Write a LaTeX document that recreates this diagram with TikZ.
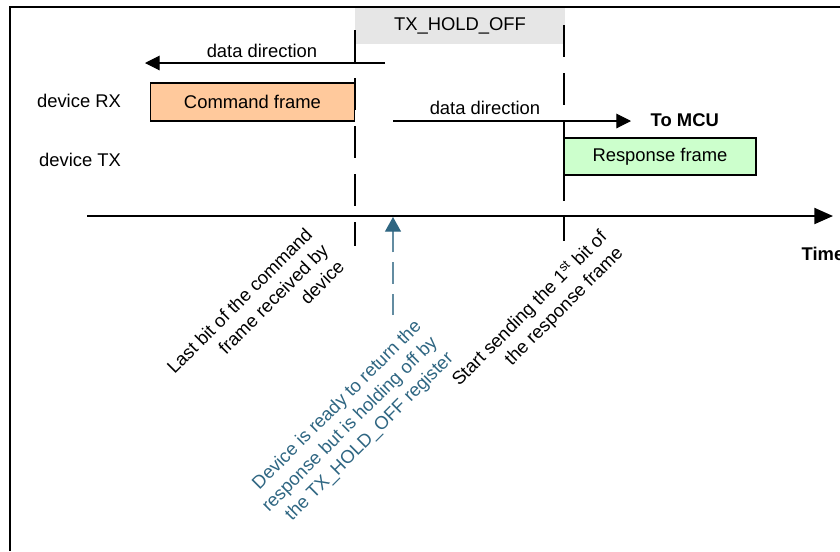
\documentclass[tikz,border=0pt]{standalone}
\usepackage{fontspec}
\setmainfont{Liberation Sans}
\usetikzlibrary{arrows.meta}
\definecolor{cmdorange}{HTML}{FFC99C}
\definecolor{respgreen}{HTML}{CCFFCC}
\definecolor{holdgray}{HTML}{E6E6E6}
\definecolor{noteblue}{HTML}{2F6682}

\begin{document}
\begin{tikzpicture}[x=0.75pt,y=-0.75pt,
  font=\fontsize{13.8}{17}\selectfont,
  framebox/.style={draw,line width=1.4pt,inner sep=0pt},
  holdline/.style={line width=1.1pt,dash pattern=on 24pt off 12pt},
  dataflow/.style={line width=0.8pt,-{Triangle[length=11pt,width=11pt]}},
  slanted/.style={rotate=45,anchor=east,align=right,inner sep=0pt}]
\useasboundingbox (0,0) rectangle (840,551);
% outer frame, cut at right and bottom
\draw[line width=1.8pt] (10,551) -- (10,7) -- (840,7);
% hold-off window
\node[fill=holdgray,minimum width=157.5pt,minimum height=27pt,inner sep=0pt] (hold) at (460,26) {TX\_HOLD\_OFF};
\coordinate (rxtop) at (355,30);
\coordinate (rxbot) at (355,246);
\coordinate (txtop) at (564,25);
\coordinate (txbot) at (564,241);
\draw[holdline] (rxtop) -- (rxbot);
\draw[holdline] (txtop) -- (txbot);
% lanes
\node (rxlabel) at (79,101) {device RX};
\node (txlabel) at (80,160) {device TX};
\node[framebox,fill=cmdorange,minimum width=153pt,minimum height=28.5pt] (cmd) at (252.5,102) {Command frame};
\node[framebox,fill=respgreen,minimum width=144pt,minimum height=27.75pt] (resp) at (660,156.5) {Response frame};
% data directions
\coordinate (inA) at (385,63);
\coordinate (inB) at (145,63);
\draw[dataflow] (inA) -- (inB);
\node (inlabel) at (262,51) {data direction};
\coordinate (outA) at (393,121);
\coordinate (outB) at (631,121);
\draw[dataflow] (outA) -- (outB);
\node (outlabel) at (485,108) {data direction};
\node[anchor=west,font=\fontsize{13.8}{17}\selectfont\bfseries] (mcu) at (646,120) {To MCU};
% time axis
\coordinate (t0) at (87,216);
\coordinate (t1) at (833,216);
\draw[line width=1.5pt,-{Triangle[length=14pt,width=12pt]}] (t0) -- (t1);
\node[anchor=west,font=\fontsize{13.8}{17}\selectfont\bfseries] (time) at (797,254) {Time};
% hold-off note
\coordinate (readyfoot) at (393,315);
\coordinate (readytip) at (393,217);
\draw[noteblue!75,line width=0.9pt,dash pattern=on 16pt off 7.5pt,
  -{Triangle[length=11pt,width=12pt,fill=noteblue,color=noteblue]}] (readyfoot) -- (readytip);
\node[slanted] (lastbit) at (325,247) {Last bit of the command\\frame received by\\device};
\node[slanted,text=noteblue] (ready) at (435,340) {Device is ready to return the\\response but is holding off by\\the TX\_HOLD\_OFF register};
\node[slanted] (firstbit) at (612,242) {Start sending the 1\textsuperscript{st} bit of\\the response frame};
\end{tikzpicture}
\end{document}
